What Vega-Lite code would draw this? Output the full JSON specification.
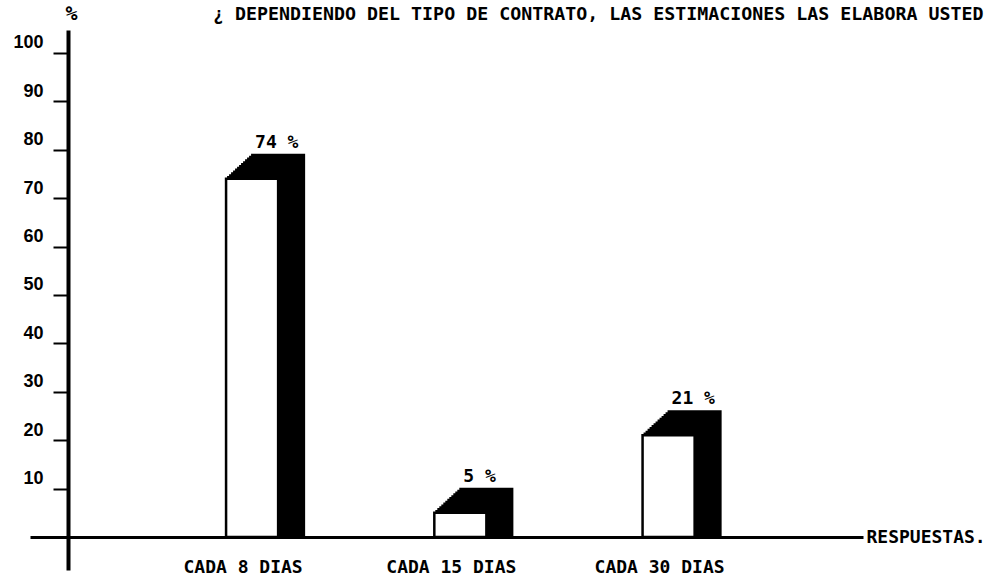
{
  "$schema": "https://vega.github.io/schema/vega-lite/v6.json",
  "width": 833,
  "height": 540,
  "autosize": {"type": "none"},
  "padding": {"left": 30, "top": 30, "right": 129, "bottom": 9},
  "background": "white",
  "config": {"view": {"stroke": null}},
  "title": {
    "text": "¿ DEPENDIENDO DEL TIPO DE CONTRATO, LAS ESTIMACIONES LAS ELABORA USTED",
    "anchor": "start",
    "frame": "group",
    "dx": 183,
    "dy": 47,
    "offset": 17,
    "baseline": "middle",
    "font": "DejaVu Sans Mono",
    "fontSize": 18.3,
    "fontWeight": "bold",
    "color": "black"
  },
  "data": {
    "values": [
      {"cat": "CADA 8 DIAS", "pct": 74, "label": "74 %"},
      {"cat": "CADA 15 DIAS", "pct": 5, "label": "5 %"},
      {"cat": "CADA 30 DIAS", "pct": 21, "label": "21 %"}
    ]
  },
  "encoding": {
    "x": {
      "field": "cat",
      "type": "nominal",
      "sort": null,
      "scale": {"paddingInner": 0.75, "paddingOuter": 0.875, "align": 0.538},
      "axis": {
        "orient": "bottom",
        "offset": -33,
        "domain": true,
        "domainWidth": 3,
        "domainColor": "black",
        "ticks": false,
        "tickSize": 0,
        "labelAngle": 0,
        "labelPadding": 30,
        "labelBaseline": "middle",
        "labelOffset": -9,
        "labelFont": "DejaVu Sans Mono",
        "labelFontSize": 18,
        "labelFontWeight": "bold",
        "labelColor": "black",
        "title": "RESPUESTAS.",
        "titleX": 836,
        "titleY": 0,
        "titleAlign": "left",
        "titleBaseline": "middle",
        "titleFont": "DejaVu Sans Mono",
        "titleFontSize": 18,
        "titleFontWeight": "bold",
        "titleColor": "black"
      }
    }
  },
  "layer": [
    {"mark": {"type": "bar", "color": "black", "stroke": "black", "strokeWidth": 2, "xOffset": 2, "yOffset": -1.85}, "encoding": {"y": {"field": "pct", "type": "quantitative", "scale": {"domain": [-6.82, 104.75], "nice": false, "zero": false}, "axis": {"orient": "left", "offset": -38, "values": [10, 20, 30, 40, 50, 60, 70, 80, 90, 100], "grid": false, "domain": true, "domainWidth": 4, "domainColor": "black", "tickSize": 15, "tickWidth": 2, "tickColor": "black", "labelPadding": 10, "labelOffset": -10, "labelFont": "Liberation Sans", "labelFontWeight": "bold", "labelFontSize": 18, "labelColor": "black", "title": "%", "titleAngle": 0, "titleX": 3, "titleY": -17, "titleAlign": "center", "titleBaseline": "middle", "titleFont": "DejaVu Sans Mono", "titleFontSize": 20, "titleFontWeight": "bold", "titleColor": "black"}}, "y2": {"datum": 0}}},
    {"mark": {"type": "bar", "color": "black", "stroke": "black", "strokeWidth": 2, "xOffset": 4, "yOffset": -3.69}, "encoding": {"y": {"field": "pct", "type": "quantitative"}, "y2": {"datum": 0}}},
    {"mark": {"type": "bar", "color": "black", "stroke": "black", "strokeWidth": 2, "xOffset": 6, "yOffset": -5.54}, "encoding": {"y": {"field": "pct", "type": "quantitative"}, "y2": {"datum": 0}}},
    {"mark": {"type": "bar", "color": "black", "stroke": "black", "strokeWidth": 2, "xOffset": 8, "yOffset": -7.38}, "encoding": {"y": {"field": "pct", "type": "quantitative"}, "y2": {"datum": 0}}},
    {"mark": {"type": "bar", "color": "black", "stroke": "black", "strokeWidth": 2, "xOffset": 10, "yOffset": -9.23}, "encoding": {"y": {"field": "pct", "type": "quantitative"}, "y2": {"datum": 0}}},
    {"mark": {"type": "bar", "color": "black", "stroke": "black", "strokeWidth": 2, "xOffset": 12, "yOffset": -11.08}, "encoding": {"y": {"field": "pct", "type": "quantitative"}, "y2": {"datum": 0}}},
    {"mark": {"type": "bar", "color": "black", "stroke": "black", "strokeWidth": 2, "xOffset": 14, "yOffset": -12.92}, "encoding": {"y": {"field": "pct", "type": "quantitative"}, "y2": {"datum": 0}}},
    {"mark": {"type": "bar", "color": "black", "stroke": "black", "strokeWidth": 2, "xOffset": 16, "yOffset": -14.77}, "encoding": {"y": {"field": "pct", "type": "quantitative"}, "y2": {"datum": 0}}},
    {"mark": {"type": "bar", "color": "black", "stroke": "black", "strokeWidth": 2, "xOffset": 18, "yOffset": -16.62}, "encoding": {"y": {"field": "pct", "type": "quantitative"}, "y2": {"datum": 0}}},
    {"mark": {"type": "bar", "color": "black", "stroke": "black", "strokeWidth": 2, "xOffset": 20, "yOffset": -18.46}, "encoding": {"y": {"field": "pct", "type": "quantitative"}, "y2": {"datum": 0}}},
    {"mark": {"type": "bar", "color": "black", "stroke": "black", "strokeWidth": 2, "xOffset": 22, "yOffset": -20.31}, "encoding": {"y": {"field": "pct", "type": "quantitative"}, "y2": {"datum": 0}}},
    {"mark": {"type": "bar", "color": "black", "stroke": "black", "strokeWidth": 2, "xOffset": 24, "yOffset": -22.15}, "encoding": {"y": {"field": "pct", "type": "quantitative"}, "y2": {"datum": 0}}},
    {"mark": {"type": "bar", "color": "black", "stroke": "black", "strokeWidth": 2, "xOffset": 26, "yOffset": -24}, "encoding": {"y": {"field": "pct", "type": "quantitative"}, "y2": {"datum": 0}}},
    {"mark": {"type": "bar", "fill": "white", "stroke": "black", "strokeWidth": 2.5}, "encoding": {"y": {"field": "pct", "type": "quantitative"}, "y2": {"datum": 0}}},
    {"mark": {"type": "text", "align": "left", "baseline": "middle", "dx": 3, "dy": -36, "font": "DejaVu Sans Mono", "fontSize": 18, "fontWeight": "bold", "color": "black"}, "encoding": {"y": {"field": "pct", "type": "quantitative"}, "text": {"field": "label"}}}
  ]
}
